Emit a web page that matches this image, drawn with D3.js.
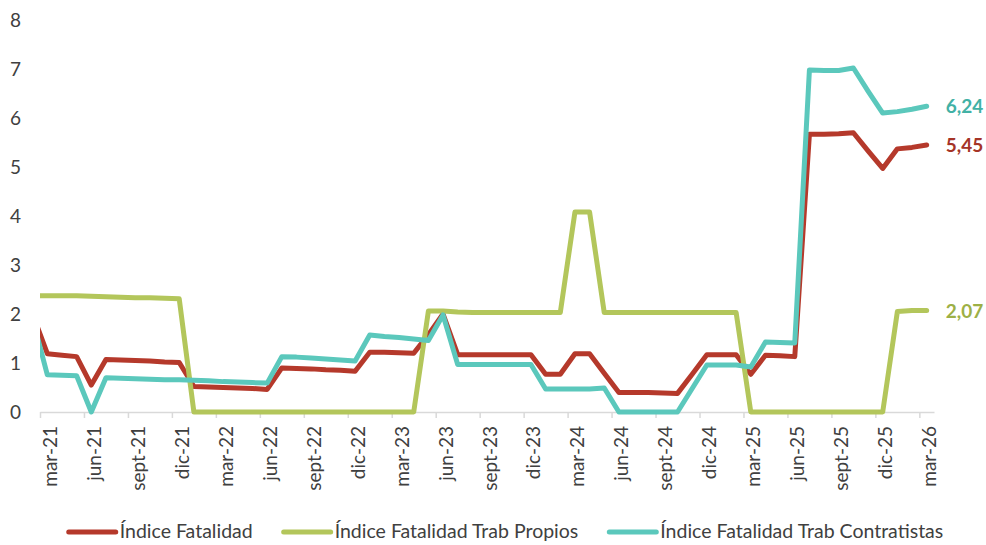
<!DOCTYPE html>
<html>
<head>
<meta charset="utf-8">
<script src="https://cdn.jsdelivr.net/npm/d3@7"></script>
<style>
  body { margin: 0; background: #fff; }
  text { font-family: Lato, "Noto Sans", sans-serif; }
</style>
</head>
<body>
<div id="chart"></div>
<script>
'use strict';

// months, feb-21 sits just left of the plot and gets clipped
const categories = [
  "feb-21","mar-21","abr-21","may-21","jun-21","jul-21","ago-21","sept-21","oct-21","nov-21","dic-21",
  "ene-22","feb-22","mar-22","abr-22","may-22","jun-22","jul-22","ago-22","sept-22","oct-22","nov-22","dic-22",
  "ene-23","feb-23","mar-23","abr-23","may-23","jun-23","jul-23","ago-23","sept-23","oct-23","nov-23","dic-23",
  "ene-24","feb-24","mar-24","abr-24","may-24","jun-24","jul-24","ago-24","sept-24","oct-24","nov-24","dic-24",
  "ene-25","feb-25","mar-25","abr-25","may-25","jun-25","jul-25","ago-25","sept-25","oct-25","nov-25","dic-25",
  "ene-26","feb-26","mar-26"
];
const tickLabels = ["mar-21","jun-21","sept-21","dic-21","mar-22","jun-22","sept-22","dic-22","mar-23",
  "jun-23","sept-23","dic-23","mar-24","jun-24","sept-24","dic-24","mar-25","jun-25","sept-25","dic-25","mar-26"];
const yTicks = [0, 1, 2, 3, 4, 5, 6, 7, 8];

const fatalidad = [
  2.00,
  1.19,1.16,1.13,0.55,1.07,1.06,1.05,1.04,1.02,1.01,
  0.52,0.51,0.50,0.49,0.48,0.46,0.90,0.89,0.88,0.86,0.85,0.83,
  1.22,1.22,1.21,1.20,1.58,2.00,1.17,1.17,1.17,1.17,1.17,1.17,
  0.77,0.77,1.19,1.19,0.79,0.40,0.40,0.40,0.39,0.38,0.77,1.17,
  1.17,1.17,0.77,1.16,1.15,1.13,5.67,5.67,5.68,5.70,5.33,4.97,
  5.37,5.40,5.45
];
const propios = [
  2.37,
  2.37,2.37,2.37,2.36,2.35,2.34,2.33,2.33,2.32,2.31,
  0,0,0,0,0,0,0,0,0,0,0,0,
  0,0,0,0,2.06,2.06,2.04,2.03,2.03,2.03,2.03,2.03,
  2.03,2.03,4.08,4.08,2.03,2.03,2.03,2.03,2.03,2.03,2.03,2.03,
  2.03,2.03,0,0,0,0,0,0,0,0,0,0,
  2.05,2.07,2.07
];
const contratistas = [
  1.90,
  0.76,0.75,0.74,0.00,0.70,0.69,0.68,0.67,0.66,0.66,
  0.65,0.64,0.62,0.61,0.60,0.59,1.13,1.12,1.10,1.08,1.06,1.04,
  1.57,1.54,1.52,1.49,1.46,1.98,0.97,0.97,0.97,0.97,0.97,0.97,
  0.47,0.47,0.47,0.47,0.49,0,0,0,0,0,0.48,0.96,
  0.96,0.96,0.92,1.43,1.42,1.41,6.98,6.97,6.97,7.02,6.55,6.10,
  6.13,6.18,6.24
];

const seriesNames = ["Índice Fatalidad", "Índice Fatalidad Trab Propios", "Índice Fatalidad Trab Contratistas"];
const seriesColors = ["#b5392b", "#b3c65b", "#5bc8bc"];
const labelColors = ["#a53427", "#9db046", "#42b1a5"];
const allSeries = [fatalidad, propios, contratistas];

const W = 986, H = 545;
const plot = {left: 40, right: 934, top: 20, bottom: 412};

const svg = d3.select("#chart").append("svg")
    .attr("width", W)
    .attr("height", H);

const x = d3.scaleLinear().domain([0.5, categories.length - 0.5]).range([plot.left, plot.right]);
const y = d3.scaleLinear().domain([0, 8]).range([plot.bottom, plot.top]);

svg.append("clipPath").attr("id", "plotclip")
  .append("rect")
    .attr("x", plot.left).attr("y", 0)
    .attr("width", plot.right - plot.left).attr("height", H);

// y axis labels only
svg.append("g")
    .attr("transform", `translate(${plot.left - 16},0)`)
    .call(d3.axisLeft(y).tickValues(yTicks).tickSize(0).tickPadding(3))
    .call(g => g.select(".domain").remove())
    .call(g => g.selectAll("text")
        .style("font-size", "19px")
        .attr("fill", "#404040"));

// x axis: ticks between months every quarter, labels on month centres
const labelIdx = tickLabels.map(l => categories.indexOf(l));

svg.append("g")
    .attr("transform", `translate(0,${plot.bottom})`)
    .call(d3.axisBottom(x).tickValues(labelIdx.map(i => i - 0.5)).tickSize(6).tickSizeOuter(0).tickFormat(""))
    .call(g => g.selectAll("path, line").attr("stroke", "#d9d9d9").attr("stroke-width", 1.5));

svg.append("g")
    .attr("transform", `translate(0,${plot.bottom})`)
    .call(d3.axisBottom(x).tickValues(labelIdx).tickSize(0).tickFormat(i => categories[i]))
    .call(g => g.select(".domain").remove())
    .call(g => g.selectAll("text")
        .style("font-size", "19px")
        .attr("fill", "#404040")
        .attr("text-anchor", "end")
        .attr("transform", "rotate(-90)")
        .attr("x", -14)
        .attr("y", 0)
        .attr("dy", "9px"));

const line = d3.line()
    .x((d, i) => x(i))
    .y(d => y(d));

const lines = svg.append("g").attr("clip-path", "url(#plotclip)");
allSeries.forEach((s, k) => {
    lines.append("path")
        .datum(s)
        .attr("fill", "none")
        .attr("stroke", seriesColors[k])
        .attr("stroke-width", 5)
        .attr("stroke-linejoin", "round")
        .attr("stroke-linecap", "round")
        .attr("d", line);
});

// end value labels
const last = categories.length - 1;
allSeries.forEach((s, k) => {
    svg.append("text")
        .attr("x", x(last) + 19)
        .attr("y", y(s[last]))
        .attr("dy", "0.38em")
        .attr("fill", labelColors[k])
        .style("font-size", "19px")
        .style("font-weight", "bold")
        .text(d3.format(".2f")(s[last]).replace(".", ","));
});

// legend, centred under the chart
const legend = svg.append("g");
const items = legend.selectAll("g").data(seriesNames).join("g");
items.append("line")
    .attr("x1", 0).attr("x2", 47)
    .attr("y1", 0).attr("y2", 0)
    .attr("stroke", (d, i) => seriesColors[i])
    .attr("stroke-width", 5)
    .attr("stroke-linecap", "round");
items.append("text")
    .attr("x", 51)
    .attr("y", 0)
    .attr("dy", "0.32em")
    .attr("fill", "#404040")
    .style("font-size", "19.5px")
    .text(d => d);

let cx = 0;
items.each(function() {
    const w = 51 + d3.select(this).select("text").node().getComputedTextLength();
    d3.select(this).attr("transform", `translate(${cx},0)`);
    cx += w + 31;
});
const legendWidth = cx - 31;
legend.attr("transform", `translate(${506 - legendWidth / 2},532)`);
</script>
</body>
</html>
